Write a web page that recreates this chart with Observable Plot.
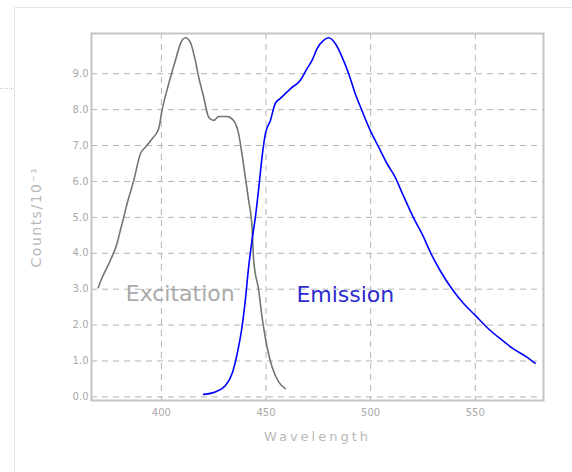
<!DOCTYPE html>
<html>
<head>
<meta charset="utf-8">
<script src="https://cdn.jsdelivr.net/npm/d3@7"></script>
<script src="https://cdn.jsdelivr.net/npm/@observablehq/plot@0.6"></script>
<style>
  html, body { margin: 0; padding: 0; background: #fff; }
  #wrap { position: relative; width: 572px; height: 472px; overflow: hidden; }
  #outer { position: absolute; left: 14px; top: 7px; width: 600px; height: 500px;
           border-left: 1px dotted #cfcfcf; border-top: 1px dotted #cfcfcf; }
  #stub { position: absolute; left: 0; top: 88px; width: 14px; border-top: 1px dotted #cfcfcf; }
  #chart { position: absolute; left: 0; top: 0; }
</style>
</head>
<body>
<div id="wrap">
  <div id="outer"></div>
  <div id="stub"></div>
  <div id="chart"></div>
</div>
<script>
const excitationWl = [369.8, 371.1, 375.6, 378.8, 380.4, 382, 382.8, 386.8, 390, 392.4, 395.6, 398.7, 400.3, 403.5, 406.7, 409.1, 411.5, 413.8, 416.2, 417.8, 420.2, 422.6, 425, 427.4, 431.4, 434.5, 436.9, 438.5, 440.1, 441.7, 443.3, 444.1, 446.5, 448.1, 450.5, 452.9, 456.1, 459.2];
const excitationVal = [3.04, 3.24, 3.80, 4.27, 4.64, 5.0, 5.2, 6.03, 6.77, 6.96, 7.19, 7.47, 7.98, 8.72, 9.37, 9.84, 10.0, 9.88, 9.37, 8.91, 8.35, 7.79, 7.70, 7.81, 7.81, 7.70, 7.33, 6.77, 6.12, 5.47, 4.73, 3.80, 2.97, 2.22, 1.39, 0.83, 0.41, 0.23];

const emissionWl = [420.2, 426.6, 430.6, 433.8, 436.2, 438.5, 440.1, 441.7, 443.3, 444.9, 446.5, 448.1, 449.7, 452.1, 454.4, 456.8, 461.6, 466.4, 469.6, 472, 474.4, 477.5, 479.9, 483.1, 486.3, 489.5, 492.6, 495.8, 499.8, 503.8, 507.8, 511.7, 514.9, 520.4, 525.3, 528.5, 533.2, 538.8, 544.4, 550, 555.5, 561.9, 568.2, 574.6, 578.6];
const emissionVal = [0.07, 0.16, 0.32, 0.65, 1.2, 1.94, 2.69, 3.62, 4.36, 5.0, 5.8, 6.68, 7.33, 7.70, 8.17, 8.31, 8.58, 8.82, 9.14, 9.37, 9.70, 9.93, 10.0, 9.84, 9.47, 9.0, 8.45, 7.98, 7.42, 6.96, 6.50, 6.12, 5.70, 5.0, 4.45, 4.03, 3.52, 3.01, 2.60, 2.27, 1.94, 1.62, 1.34, 1.11, 0.94];

const xTicks = [400, 450, 500, 550];
const yTicks = [0, 1, 2, 3, 4, 5, 6, 7, 8, 9];
const seriesLabels = [
  {name: "Excitation", wl: 409, val: 2.88},
  {name: "Emission", wl: 487.9, val: 2.85}
];

const excitation = excitationWl.map((w, i) => ({wl: w, val: excitationVal[i]}));
const emission = emissionWl.map((w, i) => ({wl: w, val: emissionVal[i]}));

const chart = Plot.plot({
  width: 572,
  height: 472,
  marginLeft: 91,
  marginRight: 29,
  marginTop: 33,
  marginBottom: 72,
  style: {fontFamily: "DejaVu Sans", background: "transparent", color: "#aaa", overflow: "visible"},
  x: {domain: [366.6, 582.6]},
  y: {domain: [-0.1, 10.12]},
  marks: [
    Plot.gridX(xTicks, {stroke: "#b4b4b4", strokeOpacity: 1, strokeDasharray: "6,5"}),
    Plot.gridY(yTicks, {stroke: "#b4b4b4", strokeOpacity: 1, strokeDasharray: "6,5"}),
    Plot.frame({stroke: "#c4c4c4", strokeWidth: 2}),
    Plot.axisY(yTicks, {tickSize: 0, tickPadding: 3, tickFormat: d3.format(".1f"), fontSize: 10, fill: "#aaa",
      label: "Counts/10⁻¹", labelAnchor: "center", labelOffset: 60, labelArrow: "none"}),
    Plot.axisX(xTicks, {tickSize: 0, tickPadding: 8, fontSize: 10, fill: "#aaa",
      label: "Wavelength", labelAnchor: "center", labelOffset: 40, labelArrow: "none"}),
    Plot.line(excitation, {x: "wl", y: "val", stroke: "#6f786f", strokeWidth: 1.6, curve: "monotone-x"}),
    Plot.line(emission, {x: "wl", y: "val", stroke: "#0000ff", strokeWidth: 1.6, curve: "monotone-x"}),
    Plot.text(seriesLabels, {x: "wl", y: "val", text: "name", fontSize: 22,
      fontFamily: "DejaVu Sans",
      fill: d => d.name === "Excitation" ? "#aaaaaa" : "#2b2bd0"})
  ]
});
document.getElementById("chart").appendChild(chart);
d3.select(chart).selectAll("g[aria-label='y-axis label'] text")
  .style("font-size", "14px").style("letter-spacing", "1.5px").attr("fill", "#b8b8b8");
d3.select(chart).selectAll("g[aria-label='x-axis label'] text")
  .style("font-size", "13px").style("letter-spacing", "3px").attr("fill", "#b8b8b8");
</script>
</body>
</html>
